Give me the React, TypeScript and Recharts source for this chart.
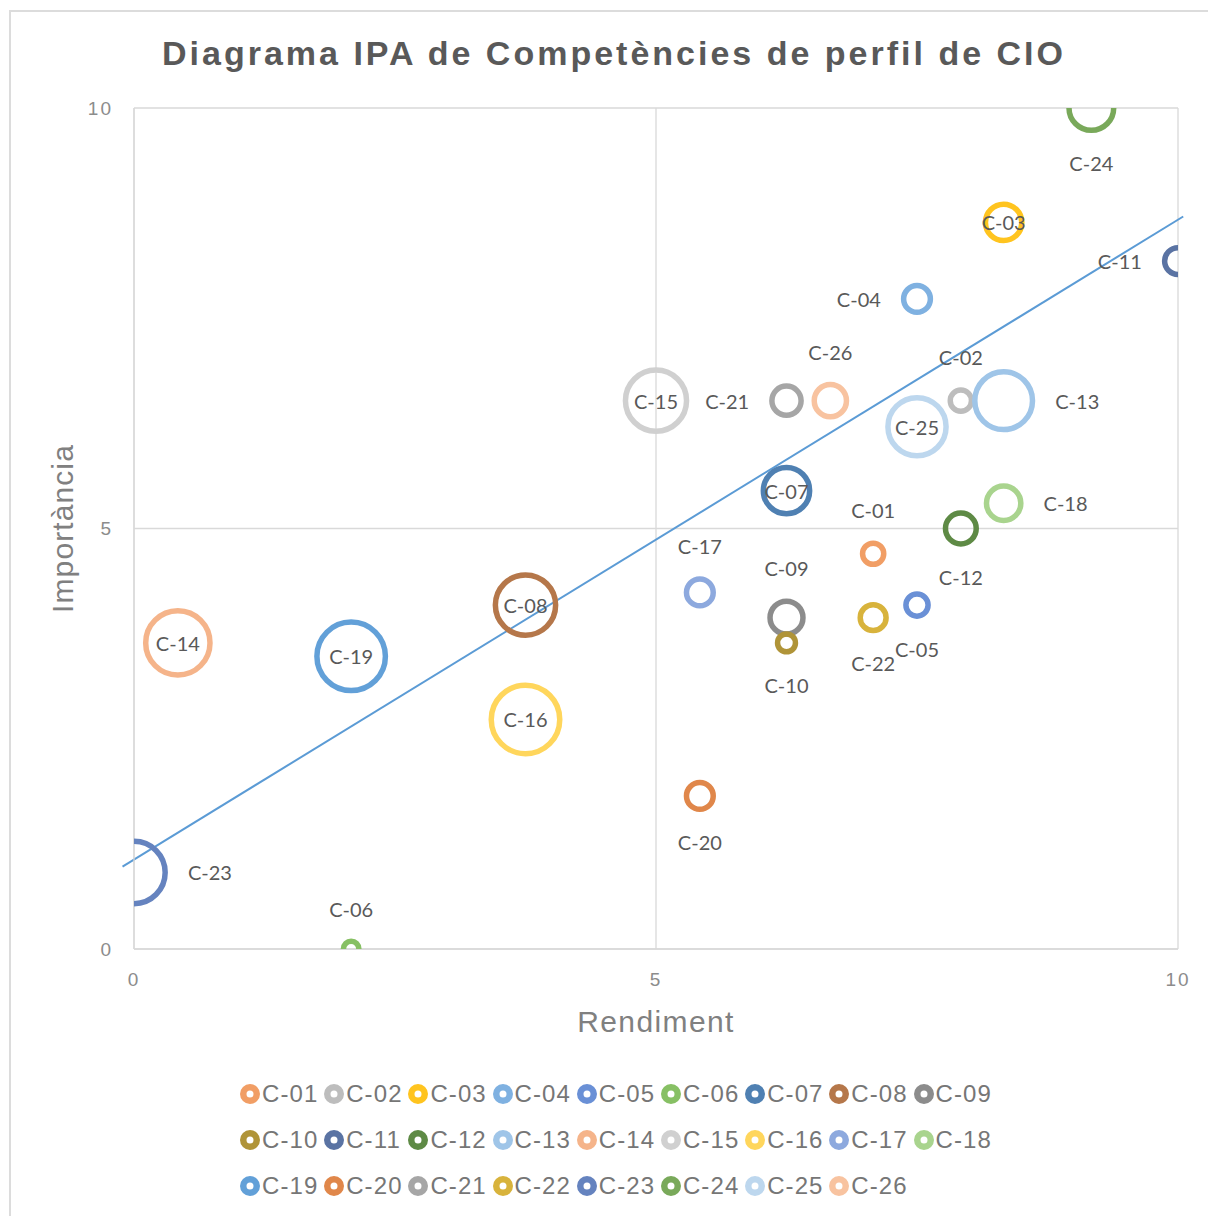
import React from 'react';
import { ScatterChart, Scatter, XAxis, YAxis, ZAxis, CartesianGrid, ReferenceLine, Legend, Label } from 'recharts';

const competencies = ['C-01','C-02','C-03','C-04','C-05','C-06','C-07','C-08','C-09','C-10','C-11','C-12','C-13','C-14','C-15','C-16','C-17','C-18','C-19','C-20','C-21','C-22','C-23','C-24','C-25','C-26'];
const rendiment = [7.08, 7.92, 8.33, 7.5, 7.5, 2.08, 6.25, 3.75, 6.25, 6.25, 10, 7.92, 8.33, 0.42, 5, 3.75, 5.42, 8.33, 2.08, 5.42, 6.25, 7.08, 0, 9.17, 7.5, 6.67];
const importancia = [4.70, 6.52, 8.64, 7.73, 4.09, 0, 5.45, 4.09, 3.94, 3.64, 8.18, 5.0, 6.52, 3.64, 6.52, 2.73, 4.24, 5.30, 3.48, 1.82, 6.52, 3.94, 0.91, 10, 6.21, 6.52];
const bubbleSize = [1.3, 1.3, 3.2, 1.9, 1.4, 0.8, 4.9, 7.9, 2.7, 1.0, 1.9, 2.4, 7.3, 8.9, 8.1, 10, 1.9, 2.9, 10, 1.9, 2.2, 1.8, 8.4, 4.6, 7.4, 2.6];
const seriesColors = ['#F19E65','#BDBDBD','#FFC41F','#7FB1E1','#6A90D6','#87C064','#4F80B2','#B5774A','#8C8C8C','#B09438','#5A73A3','#5E8A45','#9FC5E8','#F5B48A','#D0D0D0','#FFD65C','#8DA9DE','#A9D48E','#62A0D8','#E0874A','#A6A6A6','#D8B33C','#6583BF','#79A95A','#BDD7EE','#F8C3A0'];
const axisTicks = [0, 5, 10];
const trendLine = [{ x: -0.11, y: 0.98 }, { x: 10.05, y: 8.71 }];

// label placement per competency (c = centre, t = above, b = below, l = left, r = right)
const labelPlacement: Record<string, string> = {
  'C-01': 't', 'C-02': 't', 'C-03': 'c', 'C-04': 'l', 'C-05': 'b', 'C-06': 't', 'C-07': 'c', 'C-08': 'c', 'C-09': 't',
  'C-10': 'b', 'C-11': 'l', 'C-12': 'b', 'C-13': 'r', 'C-14': 'c', 'C-15': 'c', 'C-16': 'c', 'C-17': 't', 'C-18': 'r',
  'C-19': 'c', 'C-20': 'b', 'C-21': 'l', 'C-22': 'b', 'C-23': 'r', 'C-24': 'b', 'C-25': 'c', 'C-26': 't',
};

const series = competencies.map((name, i) => ({
  name,
  color: seriesColors[i],
  data: [{ x: rendiment[i], y: importancia[i], z: bubbleSize[i], name }],
}));

const LABEL_FONT = "Lato, 'Open Sans', sans-serif";
const TEXT_FONT = "'Liberation Sans', Arial, sans-serif";
const RING = 5.5;

const makeShape = (color: string, name: string) => (props: any) => {
  const { cx, cy, width } = props;
  const R = (width || 0) / 2;
  const pos = labelPlacement[name];
  let tx = cx, ty = cy, anchor: any = 'middle';
  if (pos === 't') ty = cy - R - 30;
  else if (pos === 'b') ty = cy + R + 30;
  else if (pos === 'l') { tx = cx - R - 20; anchor = 'end'; }
  else if (pos === 'r') { tx = cx + R + 20; anchor = 'start'; }
  return (
    <g>
      <circle cx={cx} cy={cy} r={Math.max(R - RING / 2, 1)} fill="none" stroke={color} strokeWidth={RING} />
      <text x={tx} y={ty} textAnchor={anchor} dominantBaseline="central" fontFamily={LABEL_FONT} fontSize={20} fill="#595959">{name}</text>
    </g>
  );
};

const LegendContent = () => (
  <div style={{ marginLeft: 240, width: 760, display: 'flex', flexWrap: 'wrap' }}>
    {competencies.map((name, i) => (
      <div key={name} style={{ width: 84.2, height: 46, display: 'flex', alignItems: 'center' }}>
        <svg width={20} height={20} style={{ flex: 'none' }}>
          <circle cx={10} cy={10} r={6.75} fill="none" stroke={seriesColors[i]} strokeWidth={6.5} />
        </svg>
        <span style={{ marginLeft: 2, fontFamily: TEXT_FONT, fontSize: 24, letterSpacing: 1.1, color: '#767676', whiteSpace: 'nowrap' }}>{name}</span>
      </div>
    ))}
  </div>
);

export default function App() {
  return (
    <div style={{ position: 'absolute', left: 0, top: 0, width: 1208, height: 1216, overflow: 'hidden', background: '#fff' }}>
      <div style={{ position: 'absolute', left: 9, top: 10, width: 1240, height: 1240, border: '2px solid #dcdcdc', boxSizing: 'border-box' }} />
      <div style={{ position: 'absolute', left: 0, top: 30, width: 1228, textAlign: 'center', fontFamily: TEXT_FONT, fontWeight: 'bold', fontSize: 34, letterSpacing: 3, color: '#595959', lineHeight: '46px' }}>
        Diagrama IPA de Competències de perfil de CIO
      </div>
      <ScatterChart width={1208} height={1216} margin={{ top: 108, right: 30, bottom: 207, left: 54 }} style={{ position: 'absolute', left: 0, top: 0 }}>
        <CartesianGrid stroke="#d9d9d9" strokeWidth={1.3} horizontalValues={axisTicks} verticalValues={axisTicks} />
        <XAxis type="number" dataKey="x" domain={[0, 10]} ticks={axisTicks} allowDataOverflow height={60}
          axisLine={{ stroke: '#d9d9d9', strokeWidth: 1.3 }} tickLine={false} tickSize={0} tickMargin={24}
          tick={{ fill: '#8c8c8c', fontSize: 19, fontFamily: TEXT_FONT, letterSpacing: 2 }}>
          <Label content={(p: any) => {
            const vb = p.viewBox;
            return <text x={vb.x + vb.width / 2} y={vb.y + 72} textAnchor="middle" dominantBaseline="central" fontFamily={TEXT_FONT} fontSize={30} letterSpacing={1.4} fill="#808080">Rendiment</text>;
          }} />
        </XAxis>
        <YAxis type="number" dataKey="y" domain={[0, 10]} ticks={axisTicks} allowDataOverflow width={80}
          axisLine={{ stroke: '#d9d9d9', strokeWidth: 1.3 }} tickLine={false} tickSize={0} tickMargin={21}
          tick={{ fill: '#8c8c8c', fontSize: 19, fontFamily: TEXT_FONT, letterSpacing: 2 }}>
          <Label content={(p: any) => {
            const vb = p.viewBox;
            const cx = vb.x + vb.width - 72;
            const cy = vb.y + vb.height / 2;
            return <text x={cx} y={cy} textAnchor="middle" dominantBaseline="central" transform={`rotate(-90 ${cx} ${cy})`} fontFamily={TEXT_FONT} fontSize={30} letterSpacing={1.1} fill="#808080">Importància</text>;
          }} />
        </YAxis>
        <ZAxis type="number" dataKey="z" domain={[0, 10]} range={[0, Math.PI * 1369]} />
        {series.map((s) => (
          <Scatter key={s.name} name={s.name} data={s.data} fill={s.color} isAnimationActive={false} shape={makeShape(s.color, s.name)} />
        ))}
        <ReferenceLine segment={trendLine} ifOverflow="visible" stroke="#5B9BD5" strokeWidth={2} />
        <Legend layout="horizontal" verticalAlign="middle" align="center" content={<LegendContent />}
          wrapperStyle={{ position: 'absolute', left: 0, top: 1071, width: 1208, height: 140 }} />
      </ScatterChart>
    </div>
  );
}
